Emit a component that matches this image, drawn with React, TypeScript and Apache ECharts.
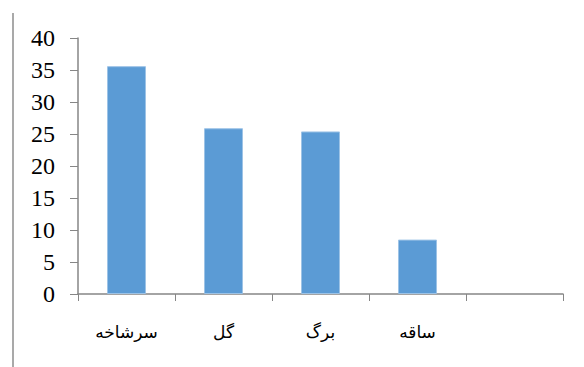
import React, { useEffect, useRef } from "react";
import * as echarts from "echarts";

const categories = ["سرشاخه", "گل", "برگ", "ساقه", ""];
const values: (number | null)[] = [35.6, 25.9, 25.4, 8.5, null];
const yTicks = { min: 0, max: 40, interval: 5 };

export default function App() {
  const ref = useRef<HTMLDivElement>(null);
  useEffect(() => {
    if (!ref.current) return;
    const chart = echarts.init(ref.current, null, { renderer: "svg" });
    chart.setOption({
      animation: false,
      backgroundColor: "#ffffff",
      grid: { left: 78, right: 21, top: 38, bottom: 73, containLabel: false },
      graphic: [
        {
          type: "line",
          shape: { x1: 13, y1: 13, x2: 13, y2: 367 },
          style: { stroke: "#8c8c8c", lineWidth: 1.5 },
        },
      ],
      xAxis: {
        type: "category",
        data: categories,
        axisLine: { lineStyle: { color: "#868686", width: 1.5 } },
        axisTick: { show: true, length: 7, alignWithLabel: false, lineStyle: { color: "#868686" } },
        axisLabel: {
          color: "#000",
          fontFamily: "'Liberation Serif', 'DejaVu Sans', serif",
          fontSize: 17,
          margin: 30,
        },
      },
      yAxis: {
        type: "value",
        min: yTicks.min,
        max: yTicks.max,
        interval: yTicks.interval,
        axisLine: { show: true, lineStyle: { color: "#868686", width: 1.5 } },
        axisTick: { show: true, length: 8, lineStyle: { color: "#868686" } },
        splitLine: { show: false },
        axisLabel: {
          color: "#000",
          fontFamily: "'Liberation Serif', serif",
          fontSize: 24,
          margin: 23,
        },
      },
      series: [
        {
          type: "bar",
          data: values,
          barWidth: 39,
          itemStyle: { color: "#5B9BD5", borderColor: "#9DC3E6", borderWidth: 1 },
        },
      ],
    });
    return () => chart.dispose();
  }, []);
  return <div ref={ref} style={{ width: 584, height: 367, position: "absolute", left: 0, top: 0 }} />;
}
